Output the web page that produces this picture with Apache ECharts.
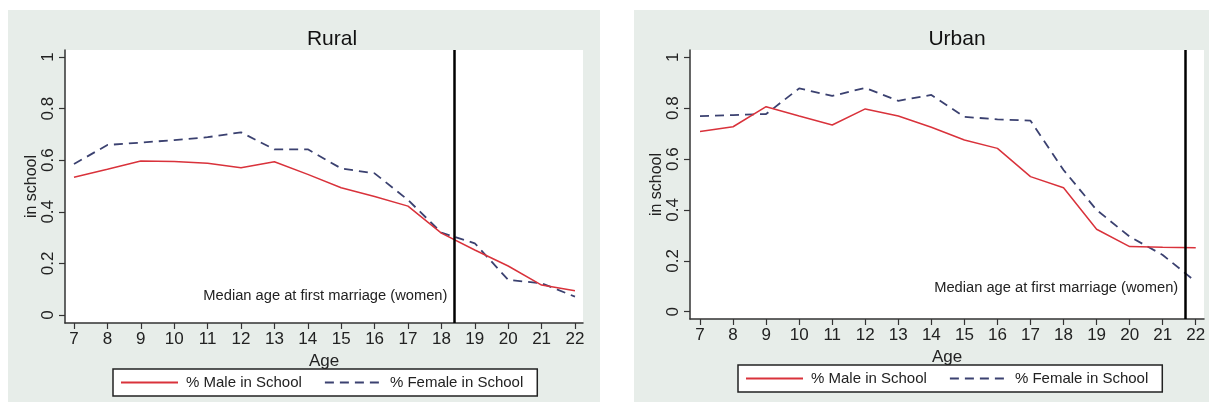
<!DOCTYPE html>
<html>
<head>
<meta charset="utf-8">
<script src="https://cdn.jsdelivr.net/npm/echarts@6/dist/echarts.min.js"></script>
<style>
  html, body { margin: 0; padding: 0; background: #fff; }
  #chart { width: 1209px; height: 403px; }
</style>
</head>
<body>
<div id="chart"></div>
<script>
// ages on the x axis
const ages = [7, 8, 9, 10, 11, 12, 13, 14, 15, 16, 17, 18, 19, 20, 21, 22];
const yTicks = [0, 0.2, 0.4, 0.6, 0.8, 1];

// share in school, rural
const ruralMale = [0.534, 0.565, 0.597, 0.595, 0.588, 0.571, 0.594, 0.545, 0.493, 0.459, 0.422, 0.317, 0.252, 0.190, 0.116, 0.094];
const ruralFemale = [0.585, 0.659, 0.668, 0.678, 0.689, 0.708, 0.642, 0.642, 0.568, 0.549, 0.446, 0.319, 0.278, 0.136, 0.123, 0.071];

// share in school, urban
const urbanMale = [0.708, 0.727, 0.806, 0.769, 0.734, 0.797, 0.769, 0.725, 0.675, 0.642, 0.531, 0.487, 0.324, 0.256, 0.253, 0.251];
const urbanFemale = [0.769, 0.773, 0.777, 0.878, 0.848, 0.880, 0.829, 0.852, 0.766, 0.756, 0.751, 0.557, 0.400, 0.295, 0.223, 0.118];

// median age at first marriage (women)
const marriageAge = [18.4, 21.67];
const panels = ['Rural', 'Urban'];
const noteText = 'Median age at first marriage (women)';

const FONT = 'Liberation Sans, Arial, sans-serif';
const AXIS = '#333';
const RED = '#d9323b';
const NAVY = '#3b4170';
const BG = '#e7ede9';

const pairs = (vals) => vals.map((v, i) => [ages[i], v]);

function xAxisFor(idx, min, max) {
  return {
    type: 'value', gridIndex: idx, min: min, max: max,
    name: 'Age', nameLocation: 'middle', nameGap: 19,
    nameTextStyle: { fontFamily: FONT, fontSize: 17, color: '#222' },
    axisLine: { show: true, onZero: false, lineStyle: { color: AXIS, width: 1.5 } },
    axisTick: { show: true, length: 6, customValues: ages, lineStyle: { color: AXIS, width: 1.2 } },
    axisLabel: { customValues: ages, margin: 8, fontFamily: FONT, fontSize: 17, color: '#222' },
    splitLine: { show: false }
  };
}

function yAxisFor(idx, min, max) {
  return {
    type: 'value', gridIndex: idx, min: min, max: max,
    name: 'in school', nameLocation: 'middle', nameGap: 25, nameRotate: 90,
    nameTextStyle: { fontFamily: FONT, fontSize: 16, color: '#222' },
    axisLine: { show: true, onZero: false, lineStyle: { color: AXIS, width: 1.5 } },
    axisTick: { show: true, length: 6, customValues: yTicks, lineStyle: { color: AXIS, width: 1.2 } },
    axisLabel: { customValues: yTicks, rotate: 90, margin: 8, fontFamily: FONT, fontSize: 17, color: '#222' },
    splitLine: { show: false }
  };
}

function lineSeries(name, idx, vals, dashed, withMarks) {
  const s = {
    name: name, type: 'line', xAxisIndex: idx, yAxisIndex: idx,
    data: pairs(vals), symbol: 'none', silent: true,
    lineStyle: dashed ? { color: NAVY, width: 1.8, type: [9, 6] } : { color: RED, width: 1.5 },
    itemStyle: { color: dashed ? NAVY : RED },
    z: dashed ? 3 : 4
  };
  if (withMarks) {
    const m = marriageAge[idx];
    s.markLine = {
      silent: true, symbol: 'none', label: { show: false },
      lineStyle: { color: '#000', width: 2.5, type: 'solid' },
      data: [{ xAxis: m }]
    };
    s.markPoint = {
      symbol: 'circle', symbolSize: 0, silent: true,
      label: {
        show: true, position: 'left', distance: 0, formatter: noteText,
        fontFamily: FONT, fontSize: 14.7, color: '#222'
      },
      data: [{ coord: idx === 0 ? [m - 0.22, 0.074] : [m - 0.2, 0.093] }]
    };
  }
  return s;
}

function legendFor(left, top) {
  return {
    left: left, top: top,
    data: ['% Male in School', '% Female in School'],
    backgroundColor: '#fff', borderColor: '#222', borderWidth: 1.5,
    padding: [6, 14, 6, 7], itemWidth: 57, itemHeight: 14, itemGap: 22,
    itemStyle: { opacity: 0 },
    textStyle: { fontFamily: FONT, fontSize: 15, color: '#222', padding: [0, 0, 0, 3] },
    selectedMode: false
  };
}

const chart = echarts.init(document.getElementById('chart'), null, { renderer: 'canvas' });

const option = {
  animation: false,
  backgroundColor: '#fff',
  graphic: [
    { type: 'rect', shape: { x: 8, y: 10, width: 592, height: 392 }, style: { fill: BG }, z: -10 },
    { type: 'rect', shape: { x: 634, y: 10, width: 575, height: 392 }, style: { fill: BG }, z: -10 }
  ],
  title: panels.map((t, i) => ({
    text: t, left: i === 0 ? 327 : 952, top: 24, textAlign: 'center',
    textStyle: { fontFamily: FONT, fontSize: 21, fontWeight: 'normal', color: '#111' }
  })),
  legend: [legendFor(113, 369), legendFor(738, 365)],
  grid: [
    { left: 65, top: 50, width: 518, height: 273, show: true, backgroundColor: '#fff', borderWidth: 0 },
    { left: 690, top: 50, width: 514, height: 269, show: true, backgroundColor: '#fff', borderWidth: 0 }
  ],
  xAxis: [xAxisFor(0, 6.731, 22.24), xAxisFor(1, 6.697, 22.25)],
  yAxis: [yAxisFor(0, -0.031, 1.027), yAxisFor(1, -0.0287, 1.0287)],
  series: [
    lineSeries('% Male in School', 0, ruralMale, false, true),
    lineSeries('% Female in School', 0, ruralFemale, true, false),
    lineSeries('% Male in School', 1, urbanMale, false, true),
    lineSeries('% Female in School', 1, urbanFemale, true, false)
  ]
};

chart.setOption(option);
</script>
</body>
</html>
